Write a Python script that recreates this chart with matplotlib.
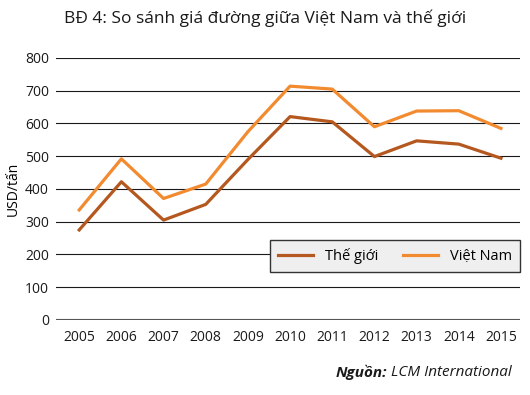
import unicodedata
import matplotlib.pyplot as plt

years = [2005, 2006, 2007, 2008, 2009, 2010, 2011, 2012, 2013, 2014, 2015]
the_gioi = [275, 422, 305, 353, 490, 621, 605, 499, 547, 537, 494]
viet_nam = [336, 492, 371, 415, 575, 714, 705, 590, 638, 639, 585]
yticks = [0, 100, 200, 300, 400, 500, 600, 700, 800]


def nfc(s):
    return unicodedata.normalize('NFC', s)


plt.rcParams['font.family'] = ['Open Sans', 'DejaVu Sans']

fig = plt.figure(figsize=(5.3, 3.95), dpi=100)
ax = fig.add_axes([0.1057, 0.1899, 0.8753, 0.6633])

for y in yticks[1:]:
    ax.axhline(y, color='#1a1a1a', lw=0.8, zorder=1)
ax.axhline(0, color='#555555', lw=1.5, zorder=1)

ax.plot(years, the_gioi, color='#b5581f', lw=2.3, label=nfc('Thế giới'), zorder=3)
ax.plot(years, viet_nam, color='#f28b30', lw=2.3, label=nfc('Việt Nam'), zorder=3)

ax.set_xlim(2004.45, 2015.45)
ax.set_ylim(0, 800)
ax.set_yticks(yticks)
ax.set_xticks(years)
ax.tick_params(length=0, labelsize=10, colors='#1a1a1a')
ax.tick_params(axis='y', pad=5)
ax.tick_params(axis='x', pad=7)
for s in ax.spines.values():
    s.set_visible(False)
ax.set_ylabel(nfc('USD/tấn'), fontsize=10, labelpad=3)

leg = ax.legend(loc='lower right', bbox_to_anchor=(1.0, 0.183), ncol=2,
                fontsize=10.5, frameon=True, fancybox=False, handlelength=2.4,
                columnspacing=1.7, borderpad=0.55, borderaxespad=0)
leg.get_frame().set_facecolor('#efefef')
leg.get_frame().set_edgecolor('#333333')
leg.get_frame().set_linewidth(1.0)
leg.get_frame().set_alpha(1)

fig.text(0.5, 0.955, nfc('BĐ 4: So sánh giá đường giữa Việt Nam và thế giới'),
         ha='center', va='center', fontsize=12.5, color='#1a1a1a')
src = fig.text(0.966, 0.058, ' LCM International', ha='right', va='center',
               fontsize=11, style='italic', color='#1a1a1a')
fig.canvas.draw()
bb = src.get_window_extent()
fig.text(bb.x0 / fig.bbox.width, 0.058, nfc('Nguồn:'), ha='right', va='center',
         fontsize=11, fontweight='bold', style='italic', color='#1a1a1a')

fig.savefig('out.png', dpi=100)
